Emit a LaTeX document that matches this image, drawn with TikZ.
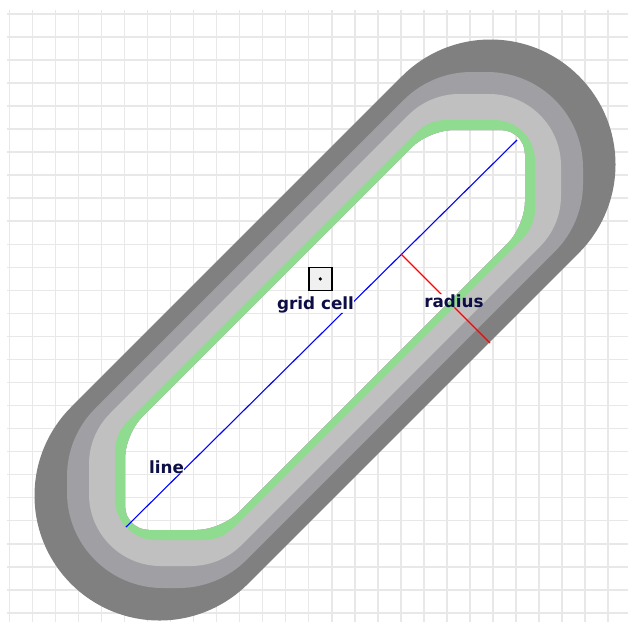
\documentclass[tikz,border=0pt]{standalone}
\usepackage{fontspec}
\usepackage{xcolor}
\usepackage{tikz}
\usetikzlibrary{calc}
\newfontfamily\lblfont{DejaVu Sans}
\definecolor{cgrid}{HTML}{E8E8E8}
\definecolor{bandD}{HTML}{808080}
\definecolor{bandC}{HTML}{A0A0A4}
\definecolor{bandB}{HTML}{C0C0C0}
\definecolor{bandG}{HTML}{8FDB8F}
\definecolor{cellfill}{HTML}{F0F0F0}
\definecolor{lbltext}{HTML}{0E0E46}

%% rounded hexagon around the core segment: #1 half length, #2 square, #3 rounding
\newcommand{\roundhex}[3]{%
  ({325-#1-#2},{330+#1+#2+#3}) -- ({325-#1+#2},{330+#1+#2+#3})
  arc[start angle=90, end angle=45, radius=#3]
  -- ({325+#1+#2+#3*0.7071},{330-#1+#2+#3*0.7071})
  arc[start angle=45, end angle=0, radius=#3]
  -- ({325+#1+#2+#3},{330-#1-#2})
  arc[start angle=0, end angle=-90, radius=#3]
  -- ({325+#1-#2},{330-#1-#2-#3})
  arc[start angle=-90, end angle=-135, radius=#3]
  -- ({325-#1-#2-#3*0.7071},{330+#1-#2-#3*0.7071})
  arc[start angle=-135, end angle=-180, radius=#3]
  -- ({325-#1-#2-#3},{330+#1+#2})
  arc[start angle=180, end angle=90, radius=#3]
  -- cycle}
%% the empty inside
\newcommand{\innerhole}{[rounded corners=24pt] (125,530) -- (221,530) -- (525,226)
  -- (525,130) -- (429,130) -- (125,434) -- cycle}

\begin{document}
\begin{tikzpicture}[x=1pt, y=-1pt,
  gridline/.style={cgrid, line width=1.6pt},
  lbl/.style={font=\lblfont\bfseries\fontsize{16.8}{18}\selectfont, text=lbltext, inner sep=0pt}]

  \useasboundingbox (0,0) rectangle (628,622);
  \fill[white] (0,0) rectangle (628,622);

  %% background grid
  \foreach \k in {0,...,26} {
    \draw[gridline] ({9.3+23.03*\k},10) -- ({9.3+23.03*\k},622);
    \draw[gridline] (7,{14+23.03*\k}) -- (628,{14+23.03*\k});
  }

  %% distance bands, outer to inner, hollow in the middle
  \foreach \col/\c/\h/\d in {bandD/165.5/0/125, bandC/154.3/8/95.7,
                             bandB/149.2/15/71.8, bandG/145/24/41} {
    \fill[\col, even odd rule] \roundhex{\c}{\h}{\d} \innerhole;
  }

  %% one grid cell
  \draw[black, line width=1.6pt, fill=cellfill] (308.7,267.3) rectangle (331.8,290.4);
  \fill[black] (320.3,278.9) circle (1.8);

  %% labels
  \node[lbl, anchor=base] (celllbl) at (315.5,309) {grid cell};
  \node[lbl, anchor=base] (linelbl) at (166.5,473) {line};
  \node[lbl, anchor=base] (radlbl) at (454,307) {radius};

  %% line and radius, broken where they cross a label
  \coordinate (lineA) at (126,527);
  \coordinate (lineB) at (517,140);
  \coordinate (radA) at (401,254);
  \coordinate (radB) at (490,343);
  \begin{scope}[even odd rule]
    \clip (0,0) rectangle (628,622)
      (celllbl.south west) rectangle (celllbl.north east)
      (linelbl.south west) rectangle (linelbl.north east)
      (radlbl.south west) rectangle (radlbl.north east);
    \draw[blue, line width=1.1pt] (lineA) -- (lineB);
    \draw[red, line width=1.1pt] (radA) -- (radB);
  \end{scope}

\end{tikzpicture}
\end{document}
